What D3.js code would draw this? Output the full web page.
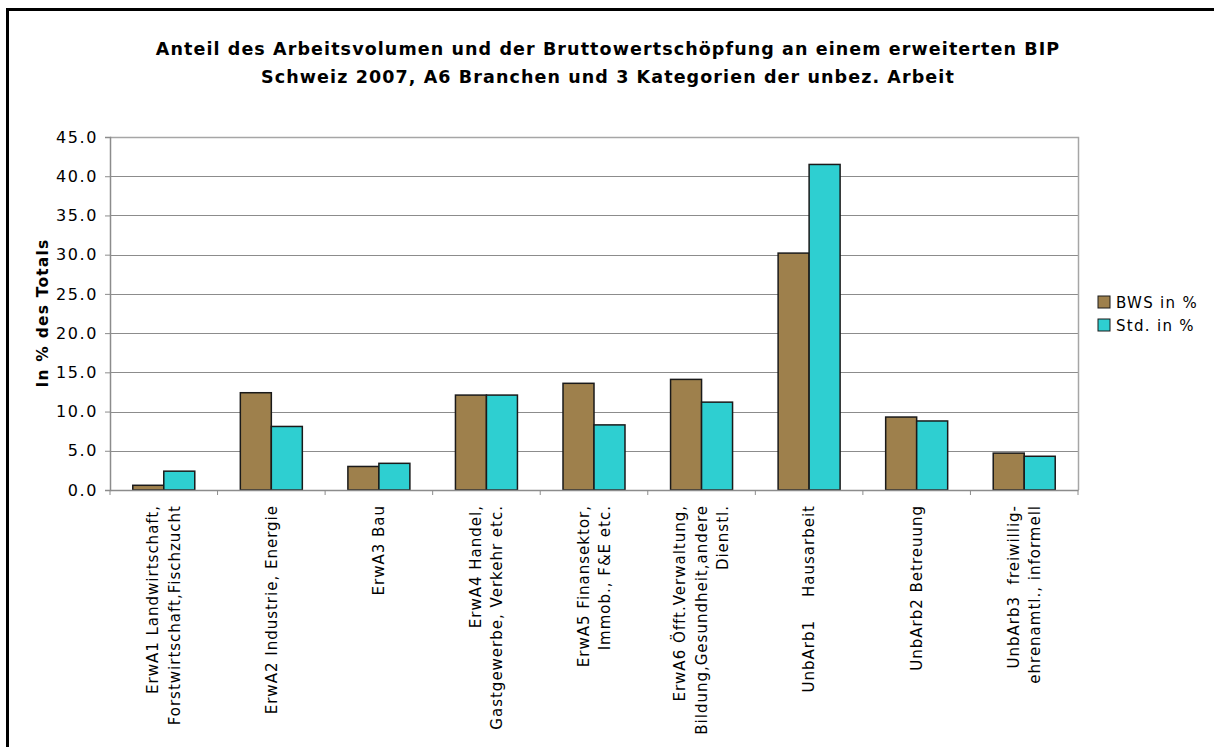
<!DOCTYPE html>
<html>
<head>
<meta charset="utf-8">
<script src="https://cdn.jsdelivr.net/npm/d3@7"></script>
<style>
	body { margin: 0; background: #fff; }
	svg { display: block; font-family: "DejaVu Sans", Verdana, sans-serif; }
	text { white-space: pre; }
</style>
</head>
<body>
<div id="chart"></div>
<script>

// category labels (line breaks as in the original)
const categories = [
	["ErwA1 Landwirtschaft,", "Forstwirtschaft,Fischzucht"],
	["ErwA2 Industrie, Energie"],
	["ErwA3 Bau"],
	["ErwA4 Handel,", "Gastgewerbe, Verkehr etc."],
	["ErwA5 Finansektor,", "Immob., F&E etc."],
	["ErwA6 Öfft.Verwaltung,", "Bildung,Gesundheit,andere", "Dienstl."],
	["UnbArb1    Hausarbeit"],
	["UnbArb2 Betreuung"],
	["UnbArb3  freiwillig-", "ehrenamtl., informell"]
];

const seriesNames = ["BWS in %", "Std. in %"];
const bwsValues = [0.6, 12.4, 3.0, 12.1, 13.6, 14.1, 30.2, 9.3, 4.7];
const stdValues = [2.4, 8.1, 3.4, 12.1, 8.3, 11.2, 41.5, 8.8, 4.3];
const yTicks = [0, 5, 10, 15, 20, 25, 30, 35, 40, 45];

const colors = ["#9e804c", "#2ecfd1"];

const width = 1214, height = 747;
const plot = {left: 110, right: 1078, top: 137, bottom: 490};

const svg = d3.select("#chart").append("svg")
	.attr("width", width)
	.attr("height", height);

// outer frame (top & left only visible)
svg.append("path")
	.attr("d", `M7.5,${height} V9.5 H${width}`)
	.attr("fill", "none")
	.attr("stroke", "#000")
	.attr("stroke-width", 3);

// title
const title = svg.append("text")
	.attr("text-anchor", "middle")
	.attr("font-weight", "bold")
	.attr("font-size", 17.5)
	.attr("letter-spacing", 1.1);
title.append("tspan").attr("x", 608).attr("y", 55)
	.text("Anteil des Arbeitsvolumen und der Bruttowertschöpfung an einem erweiterten BIP");
title.append("tspan").attr("x", 608).attr("y", 83)
	.text("Schweiz 2007, A6 Branchen und 3 Kategorien der unbez. Arbeit");

// scales
const ids = categories.map((d, i) => i);
const x0 = d3.scaleBand()
	.domain(ids)
	.range([plot.left, plot.right]);

const x1 = d3.scaleBand()
	.domain(seriesNames)
	.range([0, x0.bandwidth()])
	.paddingOuter(0.735);

const y = d3.scaleLinear()
	.domain([0, 45])
	.range([plot.bottom, plot.top]);

// gridlines
svg.append("g")
	.selectAll("line")
	.data(yTicks.filter(d => d > 0))
	.join("line")
	.attr("x1", plot.left)
	.attr("x2", plot.right)
	.attr("y1", d => Math.round(y(d)) + 0.5)
	.attr("y2", d => Math.round(y(d)) + 0.5)
	.attr("stroke", "#8c8c8c")
	.attr("stroke-width", 1);

// plot frame right side
svg.append("path")
	.attr("d", `M${plot.left},${plot.top + 0.5} H${plot.right + 0.5} V${plot.bottom}`)
	.attr("fill", "none")
	.attr("stroke", "#a6a6a6")
	.attr("stroke-width", 1.5);

// bars
const rows = ids.map(i => ({i: i, vals: [bwsValues[i], stdValues[i]]}));

const groups = svg.append("g")
	.selectAll("g")
	.data(rows)
	.join("g")
	.attr("transform", d => `translate(${x0(d.i)},0)`);

groups.selectAll("rect")
	.data(d => d.vals.map((v, k) => ({key: seriesNames[k], v: v, k: k})))
	.join("rect")
	.attr("x", d => x1(d.key))
	.attr("y", d => y(d.v))
	.attr("width", x1.bandwidth())
	.attr("height", d => y(0) - y(d.v))
	.attr("fill", d => colors[d.k])
	.attr("stroke", "#1a1a1a")
	.attr("stroke-width", 1.5);

// y axis
const yAxis = svg.append("g")
	.attr("transform", `translate(${plot.left},0)`)
	.call(d3.axisLeft(y).tickValues(yTicks).tickFormat(d3.format(".1f")).tickSize(5).tickPadding(7));
yAxis.select(".domain").attr("stroke", "#8c8c8c").attr("stroke-width", 1.5);
yAxis.selectAll(".tick line").attr("stroke", "#8c8c8c");
yAxis.selectAll(".tick text")
	.attr("font-size", 16)
	.attr("letter-spacing", 1.6)
	.attr("font-family", "DejaVu Sans, Verdana, sans-serif")
	.attr("fill", "#000");

// x axis
const xAxis = svg.append("g")
	.attr("transform", `translate(0,${plot.bottom})`)
	.call(d3.axisBottom(x0).tickSize(0).tickFormat(""));
xAxis.select(".domain").attr("stroke", "#8c8c8c").attr("stroke-width", 1.5);

// category separators ticks
svg.append("g")
	.selectAll("line")
	.data(d3.range(categories.length + 1))
	.join("line")
	.attr("x1", d => plot.left + d * x0.step())
	.attr("x2", d => plot.left + d * x0.step())
	.attr("y1", plot.bottom)
	.attr("y2", plot.bottom + 5)
	.attr("stroke", "#8c8c8c");

// rotated category labels
const lineGap = 21.5;
const labels = svg.append("g")
	.selectAll("text")
	.data(rows)
	.join("text")
	.attr("transform", d => `translate(${x0(d.i) + x0.bandwidth() / 2},505) rotate(-90)`)
	.attr("text-anchor", "end")
	.attr("font-size", 15)
	.attr("letter-spacing", 1);

labels.selectAll("tspan")
	.data(d => categories[d.i].map((t, k, arr) => ({t: t, off: (k - (arr.length - 1) / 2) * lineGap})))
	.join("tspan")
	.attr("x", 0)
	.attr("y", d => d.off)
	.attr("dy", "0.35em")
	.text(d => d.t);

// y axis title
svg.append("text")
	.attr("transform", "translate(48,313) rotate(-90)")
	.attr("text-anchor", "middle")
	.attr("font-weight", "bold")
	.attr("font-size", 15.5)
	.attr("letter-spacing", 1.2)
	.text("In % des Totals");

// legend
const legend = svg.append("g")
	.selectAll("g")
	.data(seriesNames)
	.join("g")
	.attr("transform", (d, i) => `translate(1098,${296 + i * 23})`);

legend.append("rect")
	.attr("width", 12)
	.attr("height", 12)
	.attr("fill", (d, i) => colors[i])
	.attr("stroke", "#1a1a1a")
	.attr("stroke-width", 1);

legend.append("text")
	.attr("x", 18)
	.attr("y", 12)
	.attr("font-size", 15)
	.attr("letter-spacing", 1.3)
	.text(d => d);

</script>
</body>
</html>
